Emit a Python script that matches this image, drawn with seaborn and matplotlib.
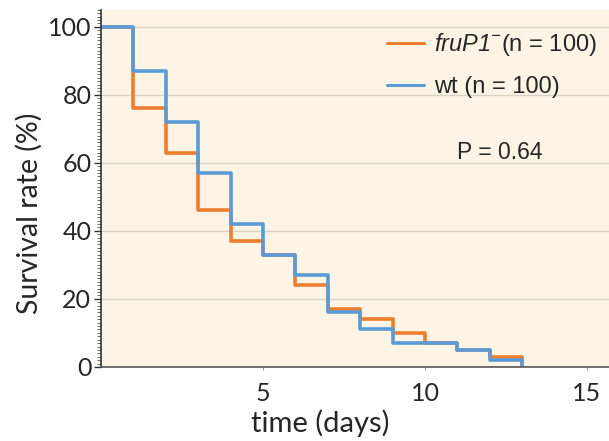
import matplotlib
matplotlib.use("Agg")
import matplotlib.pyplot as plt
from matplotlib.ticker import MultipleLocator
import seaborn as sns
import pandas as pd

# survival (%) at the start of each day, steps-post
days = list(range(0, 14))
fru_surv = [100, 76, 63, 46, 37, 33, 24, 17, 14, 10, 7, 5, 3, 0]
wt_surv = [100, 87, 72, 57, 42, 33, 27, 16, 11, 7, 7, 5, 2, 0]
fru_label = r"$\mathit{fruP1}^{-}$(n = 100)"
wt_label = "wt (n = 100)"
p_text = "P = 0.64"

df = pd.DataFrame({
    "day": days * 2,
    "surv": fru_surv + wt_surv,
    "group": [fru_label] * len(days) + [wt_label] * len(days),
})

sns.set_style("ticks")
plt.rcParams["font.family"] = ["Lato", "DejaVu Sans"]
plt.rcParams["mathtext.fontset"] = "custom"
plt.rcParams["mathtext.it"] = "Liberation Sans:italic"
# digits fall back to rm in mathtext, keep them italic
plt.rcParams["mathtext.rm"] = "Liberation Sans:italic"

bg = "#fdf4e5"
fig = plt.figure(figsize=(6.09, 4.41), dpi=100)
ax = fig.add_axes([0.166, 0.168, 0.834, 0.81])
ax.set_facecolor(bg)

sns.lineplot(data=df, x="day", y="surv", hue="group",
             palette={fru_label: "#ed7d31", wt_label: "#5b9bd5"},
             drawstyle="steps-post", linewidth=2.6, ax=ax, legend=True)

ax.set_xlim(0, 15.68)
ax.set_ylim(0, 105)
ax.set_xticks([5, 10, 15])
ax.set_yticks([0, 20, 40, 60, 80, 100])
ax.yaxis.set_minor_locator(MultipleLocator(1))
ax.yaxis.grid(True, color="#d8d2c6", linewidth=1)
ax.set_axisbelow(True)

for s in ["top", "right"]:
    ax.spines[s].set_visible(False)
ax.spines["left"].set_color("#333333")
ax.spines["bottom"].set_color("#555555")
ax.spines["left"].set_linewidth(1.2)
ax.spines["bottom"].set_linewidth(1.2)

ax.tick_params(axis="y", which="major", length=5, width=1, color="#333333",
               labelsize=18, pad=2)
ax.tick_params(axis="y", which="minor", length=3, width=0.6, color="#555555")
ax.tick_params(axis="x", which="major", length=2, width=0.8, color="#999999",
               labelsize=18, pad=9)

ax.set_xlabel("time (days)", fontsize=21)
ax.set_ylabel("Survival rate (%)", fontsize=20.5)
ax.xaxis.set_label_coords(0.431, -0.118)
ax.yaxis.set_label_coords(-0.114, 0.43)

leg = ax.legend(loc="upper left", bbox_to_anchor=(0.562, 0.94), frameon=False,
                fontsize=17, handlelength=1.6, handletextpad=0.4,
                labelspacing=0.75, borderpad=0, borderaxespad=0)
for line in leg.get_lines():
    line.set_linewidth(2.2)
for t in leg.get_texts():
    t.set_family("Liberation Sans")

ax.text(12.3, 63, p_text, fontsize=16.5, ha="center", va="center",
        family="Liberation Sans")

fig.savefig("out.png", dpi=100)
